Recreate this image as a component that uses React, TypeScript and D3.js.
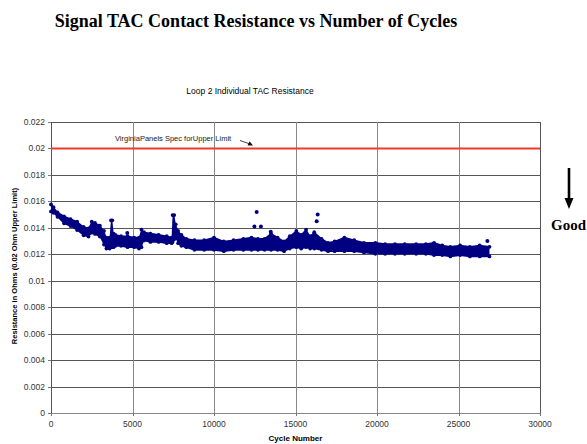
import React from 'react'
import * as d3 from 'd3'

// cycle samples along the scatter band, with the band's top and bottom
const cycles = [0, 150, 400, 800, 1200, 1600, 2000, 2300, 2500, 2700, 3000, 3250, 3400, 3600, 3680, 3760, 3840, 3950, 4300, 4700, 5100, 5400, 5550, 5700, 6100, 6600, 7100, 7400, 7460, 7560, 7650, 7800, 8000, 8300, 8800, 9400, 10000, 10600, 11200, 11800, 12300, 12700, 13100, 13500, 13900, 14300, 14650, 15050, 15350, 15650, 15900, 16150, 16600, 17000, 17400, 18000, 18600, 19200, 19900, 20500, 21100, 21700, 22400, 23000, 23500, 24000, 24500, 25100, 25700, 26300, 26900]
const upperOhms = [0.0159, 0.0157, 0.0153, 0.015, 0.0148, 0.0146, 0.0142, 0.0141, 0.0146, 0.0145, 0.0143, 0.0139, 0.0134, 0.0134, 0.0147, 0.0147, 0.0137, 0.0136, 0.0135, 0.0135, 0.0134, 0.0134, 0.014, 0.0138, 0.0137, 0.0136, 0.0135, 0.0134, 0.0151, 0.0151, 0.0144, 0.0139, 0.0136, 0.0133, 0.0132, 0.0132, 0.0134, 0.0131, 0.0132, 0.0133, 0.0134, 0.0133, 0.0133, 0.0137, 0.0134, 0.0131, 0.0135, 0.0139, 0.0136, 0.014, 0.0135, 0.0138, 0.0133, 0.013, 0.0131, 0.0134, 0.0132, 0.013, 0.013, 0.0129, 0.0129, 0.0129, 0.0129, 0.0129, 0.013, 0.0128, 0.0127, 0.0128, 0.0127, 0.0128, 0.0127]
const lowerOhms = [0.0151, 0.015, 0.0147, 0.0142, 0.014, 0.0137, 0.0133, 0.0132, 0.0135, 0.0134, 0.0132, 0.0126, 0.0123, 0.0123, 0.0124, 0.0124, 0.0124, 0.0125, 0.0125, 0.0124, 0.0124, 0.0123, 0.0124, 0.0129, 0.0128, 0.0128, 0.0127, 0.0127, 0.0128, 0.013, 0.0131, 0.0127, 0.0125, 0.0124, 0.0122, 0.0122, 0.0122, 0.0121, 0.0122, 0.0122, 0.0122, 0.0122, 0.0122, 0.0122, 0.0122, 0.0121, 0.0123, 0.0124, 0.0123, 0.0124, 0.0123, 0.0123, 0.0122, 0.0121, 0.0121, 0.0121, 0.0121, 0.012, 0.0119, 0.0119, 0.0119, 0.0119, 0.0119, 0.0119, 0.0118, 0.0118, 0.0117, 0.0118, 0.0117, 0.0117, 0.0117]

// points sitting apart from the band
const strayCycles = [4680, 12480, 12620, 12880, 13480, 16300, 16360, 26770]
const strayOhms = [0.0136, 0.0141, 0.0152, 0.0141, 0.0137, 0.0145, 0.015, 0.013]

const specLimit = 0.02
const xTicks = [0, 5000, 10000, 15000, 20000, 25000, 30000]
const yTicks = [0, 0.002, 0.004, 0.006, 0.008, 0.01, 0.012, 0.014, 0.016, 0.018, 0.02, 0.022]

const navy = '#000080'
const arial = 'Arial, "Liberation Sans", sans-serif'
const times = '"Times New Roman", "Liberation Serif", serif'

const App = () => {
  const x = d3.scaleLinear().domain([0, 30000]).range([51, 540])
  const y = d3.scaleLinear().domain([0, 0.022]).range([413, 122])

  const band = cycles.map((c, i) => ({ c, hi: upperOhms[i], lo: lowerOhms[i] }))
  const bandArea = d3.area<any>()
    .x(d => x(d.c))
    .y0(d => y(d.lo) - 1)
    .y1(d => y(d.hi) + 1)
    .curve(d3.curveLinear)(band)

  const fmtY = (d: number) => String(+d.toFixed(3))

  return (
    <svg width={587} height={444} style={{ position: 'absolute', left: 0, top: 0 }}>
      <rect width={587} height={444} fill="white" />
      <text x={256} y={27} textAnchor="middle" fontFamily={times} fontWeight="bold" fontSize={18}>
        Signal TAC Contact Resistance vs Number of Cycles
      </text>
      <text x={250} y={94} textAnchor="middle" fontFamily={arial} fontSize={8.5}>
        Loop 2 Individual TAC Resistance
      </text>

      {/* grid */}
      {yTicks.map(t => (
        <line key={'gy' + t} x1={51} x2={540} y1={Math.round(y(t)) + 0.5} y2={Math.round(y(t)) + 0.5}
          stroke={t === 0 ? '#888' : '#555'} strokeWidth={1} />
      ))}
      {xTicks.map(t => (
        <line key={'gx' + t} x1={Math.round(x(t)) + 0.5} x2={Math.round(x(t)) + 0.5} y1={122} y2={413}
          stroke={t === 0 || t === 30000 ? '#555' : '#888'} strokeWidth={1} />
      ))}

      {/* axis ticks and labels */}
      {yTicks.map(t => (
        <g key={'ty' + t}>
          <line x1={48} x2={51} y1={Math.round(y(t)) + 0.5} y2={Math.round(y(t)) + 0.5} stroke="#777" />
          <text x={45} y={y(t) + 3} textAnchor="end" fontFamily={arial} fontSize={8.5} fill="#333">{fmtY(t)}</text>
        </g>
      ))}
      {xTicks.map(t => (
        <g key={'tx' + t}>
          <line x1={Math.round(x(t)) + 0.5} x2={Math.round(x(t)) + 0.5} y1={413} y2={416} stroke="#777" />
          <text x={x(t)} y={427} textAnchor="middle" fontFamily={arial} fontSize={8.5} fill="#333">{t}</text>
        </g>
      ))}
      <text x={295.5} y={441} textAnchor="middle" fontFamily={arial} fontWeight="bold" fontSize={8}>Cycle Number</text>
      <text transform="translate(17,266) rotate(-90)" textAnchor="middle" fontFamily={arial} fontWeight="bold" fontSize={7.5}>
        Resistance in Ohms (0.02 Ohm Upper Limit)
      </text>

      {/* spec limit */}
      <line x1={51} x2={540} y1={y(specLimit)} y2={y(specLimit)} stroke="#ee3a26" strokeWidth={2} />
      <text x={115} y={141} fontFamily={arial} fontSize={7.5} fill="#222">VirginiaPanels Spec forUpper Limit</text>
      <line x1={240} y1={140.5} x2={250} y2={144} stroke="#111" strokeWidth={0.8} />
      <path d="M253,145.5 L247.5,145.6 L249.6,141.3 Z" fill="#111" />

      {/* data */}
      <path d={bandArea ?? ''} fill={navy} />
      {band.map((d, i) => (
        <g key={'m' + i} fill={navy}>
          <circle cx={x(d.c)} cy={y(d.hi) + 1.8} r={1.9} />
          <circle cx={x(d.c)} cy={y(d.lo) - 1.8} r={1.9} />
        </g>
      ))}
      {strayCycles.map((c, i) => (
        <circle key={'s' + i} cx={x(c)} cy={y(strayOhms[i])} r={2} fill={navy} />
      ))}

      {/* Good arrow */}
      <line x1={569} x2={569} y1={168} y2={199} stroke="black" strokeWidth={2.6} />
      <path d="M564.5,198 L573.5,198 L569,209 Z" fill="black" />
      <text x={551} y={230} fontFamily={times} fontWeight="bold" fontSize={15}>Good</text>
    </svg>
  )
}

export default App
